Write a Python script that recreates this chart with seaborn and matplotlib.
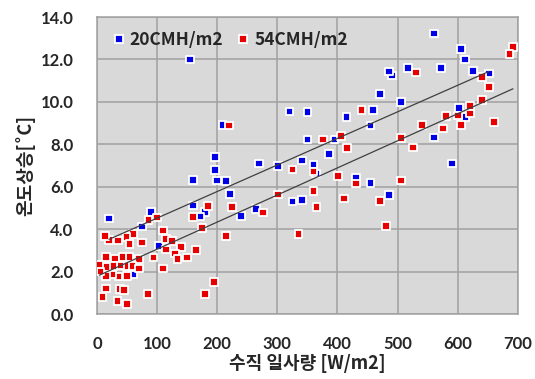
import numpy as np
import pandas as pd
import matplotlib
matplotlib.use("Agg")
import matplotlib.pyplot as plt
import seaborn as sns

# ---- data ----
blue_x = [155, 209, 196, 196, 160, 200, 215, 221, 160, 180, 171, 240, 265, 270, 301,
          341, 325, 341, 320, 350, 415, 459, 455, 350, 395, 386, 360, 561, 606, 612,
          517, 572, 491, 486, 626, 652, 471, 506, 602, 613, 561, 591, 455, 486, 20,
          90, 75, 60, 103, 25, 431, 364]
blue_y = [12.0, 8.9, 7.4, 6.8, 6.33, 6.29, 6.26, 5.67, 5.12, 4.8, 4.59, 4.62, 4.94, 7.1, 6.98,
          7.24, 5.31, 5.37, 9.54, 9.51, 9.29, 9.62, 8.88, 8.22, 8.22, 7.55, 7.04, 13.23, 12.48, 12.0,
          11.61, 11.61, 11.25, 11.43, 11.47, 11.33, 10.36, 10.0, 9.71, 9.30, 8.33, 7.1, 6.17, 5.61, 4.51,
          4.81, 4.12, 1.87, 3.22, 2.39, 6.4, 6.62]

red_x = [220, 440, 376, 406, 416, 692, 686, 531, 641, 652, 641, 621, 621, 601, 581,
         606, 576, 541, 661, 506, 526, 325, 360, 401, 431, 301, 360, 365, 411, 276,
         335, 506, 471, 481, 225, 185, 160, 175, 215, 86, 100, 60, 49, 54, 75,
         35, 20, 13, 110, 115, 125, 115, 140, 130, 134, 150, 165, 94, 110, 195,
         180, 85, 15, 30, 43, 54, 70, 49, 59, 70, 39, 27, 15, 50, 36,
         25, 15, 38, 45, 15, 9, 34, 50, 4, 6]
red_y = [8.88, 9.62, 8.22, 8.38, 7.82, 12.59, 12.27, 11.39, 11.16, 10.70, 10.09, 9.81, 9.46, 9.35, 9.34,
         8.91, 8.75, 8.90, 9.04, 8.31, 7.85, 6.82, 6.71, 6.51, 6.16, 5.64, 5.80, 5.04, 5.45, 4.78,
         3.78, 6.29, 5.34, 4.16, 5.04, 5.08, 4.56, 4.05, 3.68, 4.44, 4.55, 3.76, 3.64, 3.31, 3.38,
         3.46, 3.49, 3.67, 3.94, 3.53, 3.44, 3.05, 3.15, 2.85, 2.58, 2.67, 3.03, 2.66, 2.15, 1.52,
         0.95, 0.95, 2.70, 2.62, 2.69, 2.69, 2.58, 2.26, 2.26, 2.15, 2.28, 2.26, 2.23, 1.79, 1.76,
         1.86, 1.78, 1.17, 1.13, 1.21, 0.80, 0.62, 0.46, 2.30, 2.0]

series_names = ["20CMH/m2", "54CMH/m2"]
series_colors = ["#0000E6", "#E60000"]

# linear trend lines as drawn in the reference (slope, intercept)
trend_slope = [0.01252, 0.01277]
trend_intercept = [3.27, 1.78]

x_ticks = [0, 100, 200, 300, 400, 500, 600, 700]
y_ticks = [0.0, 2.0, 4.0, 6.0, 8.0, 10.0, 12.0, 14.0]

df = pd.DataFrame({
    "x": blue_x + red_x,
    "y": blue_y + red_y,
    "series": [series_names[0]] * len(blue_x) + [series_names[1]] * len(red_x),
})

# ---- figure ----
sns.set_style("white")
plt.rcParams["font.family"] = ["Lato", "Noto Sans CJK KR", "DejaVu Sans"]

fig = plt.figure(figsize=(5.35, 3.79), dpi=100)
ax = fig.add_axes([0.1813, 0.1715, 0.7864, 0.7835])
ax.set_facecolor("#D9D9D9")

sns.scatterplot(data=df, x="x", y="y", hue="series", hue_order=series_names,
                palette=series_colors, marker="s", s=30, edgecolor="white",
                linewidth=1.3, ax=ax, zorder=3)

xs_all = [blue_x, red_x]
for k in range(2):
    xr = np.array([min(xs_all[k]), max(xs_all[k])], dtype=float)
    ax.plot(xr, trend_slope[k] * xr + trend_intercept[k], color="#404040",
            lw=0.9, zorder=4)

ax.set_xlim(0, 700)
ax.set_ylim(0, 14)
ax.set_xticks(x_ticks)
ax.set_yticks(y_ticks)
ax.set_xticklabels([str(v) for v in x_ticks])
ax.set_yticklabels([f"{v:.1f}" for v in y_ticks])
ax.grid(True, color="#A0A0A0", lw=1.1, zorder=0)
ax.set_axisbelow(True)
for sp in ax.spines.values():
    sp.set_color("#A0A0A0")
    sp.set_linewidth(1.1)
ax.tick_params(length=0, labelsize=12)
ax.tick_params(axis="x", pad=16)
ax.tick_params(axis="y", pad=17)
for lab in ax.get_xticklabels() + ax.get_yticklabels():
    lab.set_fontweight("bold")

ax.set_xlabel("수직 일사량 [W/m2]", fontsize=13, fontweight="bold",
              family=["Noto Sans CJK KR", "DejaVu Sans"], labelpad=1)
ax.set_ylabel("온도상승[˚C]", fontsize=13, fontweight="bold",
              family=["Noto Sans CJK KR", "DejaVu Sans"], labelpad=4)

leg = ax.legend(loc="upper left", ncol=2, frameon=False,
                prop={"family": ["Noto Sans CJK KR", "DejaVu Sans"], "weight": "bold", "size": 12.5},
                handlelength=0.5, handletextpad=0.4, columnspacing=0.9,
                borderaxespad=0.4, bbox_to_anchor=(0.008, 1.0))

fig.savefig("out.png", dpi=100)
